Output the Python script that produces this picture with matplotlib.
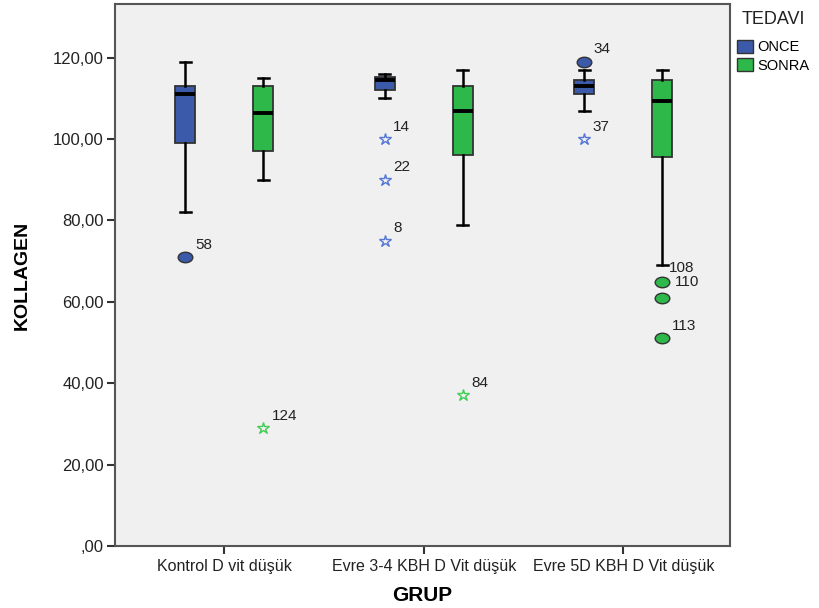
import matplotlib
matplotlib.use("Agg")
import matplotlib.pyplot as plt
from matplotlib.patches import Patch
from matplotlib.path import Path
from matplotlib.transforms import Affine2D

plt.rcParams['font.family'] = ['Liberation Sans', 'DejaVu Sans']

groups = ["Kontrol D vit düşük", "Evre 3-4 KBH D Vit düşük", "Evre 5D KBH D Vit düşük"]
series = ["ONCE", "SONRA"]
colors = {"ONCE": "#3C5AAA", "SONRA": "#2EB84A"}
star_colors = {"ONCE": "#5577D6", "SONRA": "#44CC55"}

# five-number summaries: whislo, q1, med, q3, whishi
once_whislo = [82, 110, 107]
once_q1 = [99, 112, 111]
once_med = [111, 114.4, 113]
once_q3 = [113, 115.2, 114.4]
once_whishi = [119, 116, 117]

sonra_whislo = [90, 79, 69]
sonra_q1 = [97, 96, 95.5]
sonra_med = [106.5, 107, 109.3]
sonra_q3 = [113, 113, 114.4]
sonra_whishi = [115, 117, 117]

# outliers (circles)
out_group = [0, 2, 2, 2, 2]
out_series = ["ONCE", "ONCE", "SONRA", "SONRA", "SONRA"]
out_value = [71, 119, 65, 61, 51]
out_label = ["58", "34", "110", "", "113"]

# extremes (stars)
ext_group = [1, 1, 1, 2, 0, 1]
ext_series = ["ONCE", "ONCE", "ONCE", "ONCE", "SONRA", "SONRA"]
ext_value = [100, 90, 75, 100, 29, 37]
ext_label = ["14", "22", "8", "37", "124", "84"]

# label at whisker end
whisk_label_group = [2]
whisk_label_series = ["SONRA"]
whisk_label_value = [69]
whisk_label_text = ["108"]

offset = 0.196
width = 0.1

fig = plt.figure(figsize=(8.19, 6.08), dpi=100)
ax = fig.add_axes([115/819, 1-546/608, (730-115)/819, (546-4)/608])
ax.set_facecolor("#F0F0F0")

ellipse = Path.unit_circle().transformed(Affine2D().scale(1.0, 0.72))

def pos(g, s):
    return g + (-offset if s == "ONCE" else offset)

for s, wl, q1, md, q3, wh in [("ONCE", once_whislo, once_q1, once_med, once_q3, once_whishi),
                              ("SONRA", sonra_whislo, sonra_q1, sonra_med, sonra_q3, sonra_whishi)]:
    stats = []
    for i in range(len(groups)):
        stats.append(dict(whislo=wl[i], q1=q1[i], med=md[i], q3=q3[i], whishi=wh[i], fliers=[]))
    ax.bxp(stats, positions=[pos(i, s) for i in range(len(groups))], widths=width,
           patch_artist=True, showfliers=False,
           boxprops=dict(facecolor=colors[s], edgecolor="#333333", linewidth=1.3),
           medianprops=dict(color="black", linewidth=2.8),
           whiskerprops=dict(color="black", linewidth=1.8),
           capprops=dict(color="black", linewidth=1.8), capwidths=width*0.55, zorder=3)

for g, s, v, lab, in zip(out_group, out_series, out_value, out_label):
    x = pos(g, s)
    ax.plot(x, v, marker=ellipse, markersize=10.5, markerfacecolor=colors[s], markeredgecolor="#333333",
            markeredgewidth=1.0, linestyle='none', zorder=4)
    if lab == "110":
        ax.annotate(lab, (x, v), xytext=(9, 0), textcoords='offset points', fontsize=11,
                    color="#222222", va='center')
    elif lab:
        ax.annotate(lab, (x, v), xytext=(7, 6), textcoords='offset points', fontsize=11, color="#222222")

for g, s, v, lab in zip(ext_group, ext_series, ext_value, ext_label):
    x = pos(g, s)
    ax.plot(x, v, marker='*', markersize=9, markerfacecolor='none', markeredgecolor=star_colors[s],
            markeredgewidth=1.0, linestyle='none', zorder=4)
    ax.annotate(lab, (x, v), xytext=(6, 6), textcoords='offset points', fontsize=11, color="#222222")

for g, s, v, lab in zip(whisk_label_group, whisk_label_series, whisk_label_value, whisk_label_text):
    x = pos(g, s)
    ax.annotate(lab, (x, v), xytext=(5, -2), textcoords='offset points', fontsize=11,
                color="#222222", va='center')

ax.set_xlim(-0.548, 2.535)
ax.set_ylim(0, 133.2)
ax.set_xticks(range(len(groups)))
ax.set_xticklabels(groups, fontsize=11.5)
yt = [0, 20, 40, 60, 80, 100, 120]
ax.set_yticks(yt)
ax.set_yticklabels([",00" if v == 0 else f"{v},00" for v in yt], fontsize=12)
ax.tick_params(axis='both', direction='out', length=6, width=1.5, color="#333333", labelcolor="#222222")
ax.tick_params(axis='x', pad=3)
ax.tick_params(axis='y', pad=2)
for sp in ax.spines.values():
    sp.set_color("#555555")
    sp.set_linewidth(1.5)

ax.set_xlabel("GRUP", fontsize=15, fontweight='bold', labelpad=9)
ax.set_ylabel("KOLLAGEN", fontsize=14, fontweight='bold', labelpad=16)

fig.text(742/819, 1-20/608, "TEDAVI", fontsize=13, va='center', ha='left', color="#222222")
handles = [Patch(facecolor=colors[s], edgecolor="#333333", label=s) for s in series]
leg = fig.legend(handles=handles, loc='upper left', bbox_to_anchor=(734/819, 1-37/608),
                 frameon=False, fontsize=10.5, handlelength=1.1, handleheight=1.0,
                 handletextpad=0.3, labelspacing=0.25, borderaxespad=0, borderpad=0.2)

fig.savefig("out.png", dpi=100)
